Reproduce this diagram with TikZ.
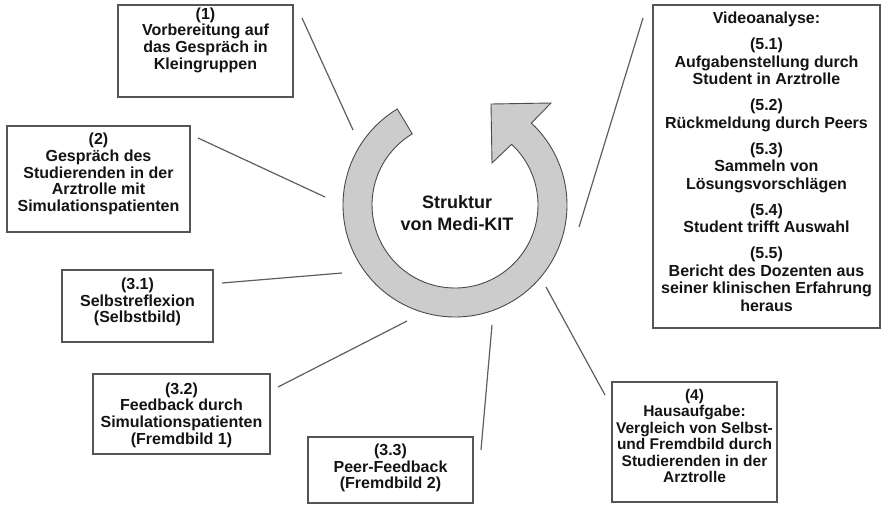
\documentclass[tikz,border=0pt]{standalone}
\usepackage{fontspec}
\setmainfont{Liberation Sans}
\definecolor{boxgray}{RGB}{85,85,85}
\definecolor{linegray}{RGB}{95,95,95}
\definecolor{arrowfill}{RGB}{204,204,204}
\definecolor{arrowedge}{RGB}{75,75,75}
\definecolor{textblack}{RGB}{20,20,20}
\begin{document}
\begin{tikzpicture}[x=1pt,y=-1pt,
  box/.style={draw=boxgray, line width=1.3pt, rectangle, inner sep=0pt},
  txt/.style={font=\bfseries\fontsize{16}{16.6}\selectfont, align=center, text=textblack, inner sep=0pt},
  txtfour/.style={font=\bfseries\fontsize{15.5}{16.4}\selectfont, align=center, text=textblack, inner sep=0pt},
  txtfive/.style={font=\bfseries\fontsize{16}{17.7}\selectfont, align=center, text=textblack, inner sep=0pt},
  ctrtxt/.style={font=\bfseries\fontsize{18}{22}\selectfont, align=center, text=textblack, inner sep=0pt},
  conn/.style={draw=linegray, line width=1.2pt},
  ring/.style={draw=arrowedge, fill=arrowfill, line width=0.9pt, line join=miter}]
\fill[white] (0,0) rectangle (886,504);
\useasboundingbox (0,0) rectangle (886,504);

% central circular arrow
\coordinate (c) at (455,205);
\path[ring] ([shift={(455,205)}]-121:112) arc[start angle=-121, end angle=-407, radius=112]
  -- (551,103) -- (491,104) -- (492,163)
  -- ([shift={(455,205)}]-407:83) arc[start angle=-407, end angle=-121, radius=83] -- cycle;
\node[ctrtxt] (ctr) at (457,213) {Struktur\\von Medi-KIT};

% boxes
\node[box, minimum width=175pt, minimum height=92pt] (b1) at (205.5,51) {};
\node[txt] (t1) at (205.5,40) {(1)\\Vorbereitung auf\\das Gespräch in\\Kleingruppen};

\node[box, minimum width=183pt, minimum height=106pt] (b2) at (98.5,179) {};
\node[txt] (t2) at (98.5,174) {(2)\\Gespräch des\\Studierenden in der\\Arztrolle mit\\Simulationspatienten};

\node[box, minimum width=151pt, minimum height=72pt] (b31) at (137.5,306) {};
\node[txt] (t31) at (137.5,302) {(3.1)\\Selbstreflexion\\(Selbstbild)};

\node[box, minimum width=177pt, minimum height=80pt] (b32) at (181.5,414) {};
\node[txt] (t32) at (181.5,415) {(3.2)\\Feedback durch\\Simulationspatienten\\(Fremdbild 1)};

\node[box, minimum width=165pt, minimum height=66pt] (b33) at (390.5,470) {};
\node[txt] (t33) at (390.5,468) {(3.3)\\Peer-Feedback\\(Fremdbild 2)};

\node[box, minimum width=165pt, minimum height=120pt] (b4) at (694.5,442) {};
\node[txtfour] (t4) at (694.5,436) {(4)\\Hausaufgabe:\\Vergleich von Selbst-\\und Fremdbild durch\\Studierenden in der\\Arztrolle};

\node[box, minimum width=227pt, minimum height=323pt] (b5) at (766.5,166.5) {};
\node[txtfive] (t5) at (766.5,162) {Videoanalyse:\\[8pt]
(5.1)\\Aufgabenstellung durch\\Student in Arztrolle\\[8pt]
(5.2)\\Rückmeldung durch Peers\\[8pt]
(5.3)\\Sammeln von\\Lösungsvorschlägen\\[8pt]
(5.4)\\Student trifft Auswahl\\[8pt]
(5.5)\\Bericht des Dozenten aus\\seiner klinischen Erfahrung\\heraus};

% connector lines
\coordinate (p1a) at (302,18);   \coordinate (p1b) at (353,130);
\coordinate (p2a) at (198,138);  \coordinate (p2b) at (325,197);
\coordinate (p31a) at (222,283); \coordinate (p31b) at (342,273);
\coordinate (p32a) at (278,387); \coordinate (p32b) at (407,321);
\coordinate (p33a) at (481,450); \coordinate (p33b) at (492,325);
\coordinate (p4a) at (605,395);  \coordinate (p4b) at (546,287);
\coordinate (p5a) at (643,18);   \coordinate (p5b) at (579,227);
\draw[conn] (p1a) -- (p1b);
\draw[conn] (p2a) -- (p2b);
\draw[conn] (p31a) -- (p31b);
\draw[conn] (p32a) -- (p32b);
\draw[conn] (p33a) -- (p33b);
\draw[conn] (p4a) -- (p4b);
\draw[conn] (p5a) -- (p5b);
\end{tikzpicture}
\end{document}
